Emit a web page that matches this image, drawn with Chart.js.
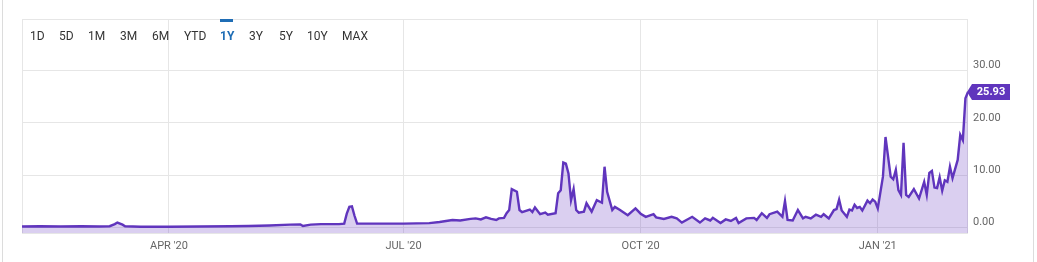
<!DOCTYPE html>
<html>
<head>
<meta charset="utf-8">
<script src="https://cdn.jsdelivr.net/npm/chart.js@4/dist/chart.umd.min.js"></script>
<style>
  html, body { margin: 0; padding: 0; background: #fff; }
  #wrap { position: relative; width: 1037px; height: 262px; font-family: Roboto, sans-serif; }
  #frame { position: absolute; left: 2px; top: 0; width: 1032px; height: 262px; box-sizing: border-box;
           border-left: 1px solid #dcdcdc; border-right: 1px solid #dcdcdc; pointer-events: none; }
  #chart { position: absolute; left: 0; top: 0; }
  .range { position: absolute; top: 29px; font-size: 12px; color: #333; line-height: 14px; }
  .range.active { color: #1f6db5; font-weight: bold; }
  #activeBar { position: absolute; left: 220px; top: 19px; width: 13px; height: 3px; background: #1f6db5; }
</style>
</head>
<body>
<div id="wrap">
  <canvas id="chart" width="1037" height="262"></canvas>
  <div id="frame"></div>
  <div id="activeBar"></div>
  <div id="ranges"></div>
</div>
<script>
// range buttons across the top
const ranges = ['1D', '5D', '1M', '3M', '6M', 'YTD', '1Y', '3Y', '5Y', '10Y', 'MAX'];
const rangeLeft = [30, 59, 88, 120, 152, 184, 220, 249, 279, 307, 342];
const activeRange = '1Y';

// x = days since 2020-01-01
const days = [
  34, 41, 49, 57, 64, 68, 70, 71, 73, 74, 80, 91, 103, 115, 122, 130, 138, 142, 143, 146,
  150, 157, 159, 160, 161, 162, 163, 164, 173, 182, 192, 196, 201, 204, 208, 210, 212, 214, 216, 218,
  219, 221, 222, 223, 224, 226, 227, 228, 231, 232, 233, 235, 237, 238, 241, 242, 243, 244, 245, 246,
  247, 248, 249, 250, 252, 253, 255, 257, 259, 260, 261, 263, 264, 266, 269, 272, 274, 276, 279, 280,
  283, 286, 288, 290, 294, 297, 299, 301, 302, 305, 307, 309, 311, 312, 315, 318, 319, 321, 323, 324,
  327, 329, 330, 331, 333, 335, 337, 338, 340, 342, 344, 345, 347, 349, 350, 351, 352, 354, 355, 356,
  357, 358, 359, 360, 362, 363, 364, 365, 366, 368, 369, 371, 372, 373, 374, 375, 376, 377, 378, 380,
  382, 384, 385, 386, 387, 388, 389, 390, 391, 392, 393, 394, 395, 397, 398, 399, 400, 401
];
const prices = [
  0.15, 0.2, 0.15, 0.2, 0.15, 0.2, 0.6, 0.9, 0.5, 0.2, 0.1, 0.1, 0.15, 0.2, 0.25, 0.35, 0.5, 0.55, 0.25, 0.5,
  0.6, 0.6, 0.7, 2.6, 3.9, 4.0, 2.2, 0.7, 0.7, 0.7, 0.8, 1.0, 1.4, 1.3, 1.6, 1.7, 1.5, 1.9, 1.6, 1.4,
  1.7, 1.8, 2.7, 3.3, 7.3, 6.8, 3.3, 2.9, 3.4, 2.9, 3.8, 2.5, 2.8, 2.4, 2.7, 6.5, 7.1, 12.4, 12.2, 10.3,
  5.2, 7.3, 3.3, 2.8, 3.0, 4.6, 3.0, 5.2, 4.7, 11.6, 6.8, 3.3, 3.9, 3.3, 2.3, 3.6, 2.6, 2.0, 2.5, 1.9,
  1.6, 2.0, 1.7, 0.9, 2.0, 0.9, 1.7, 1.3, 1.8, 0.8, 1.5, 1.2, 1.8, 0.8, 1.7, 1.8, 1.4, 2.7, 1.8, 2.5,
  3.0, 2.0, 5.0, 1.4, 1.3, 3.3, 1.7, 2.0, 1.7, 2.4, 2.0, 2.5, 1.7, 3.3, 3.5, 5.3, 3.2, 2.0, 3.4, 3.2,
  4.3, 3.7, 3.9, 3.2, 5.1, 4.6, 5.3, 4.9, 3.6, 9.7, 17.3, 9.7, 9.2, 11.0, 7.1, 6.2, 16.2, 6.2, 5.8, 7.3,
  5.5, 8.7, 6.2, 10.4, 10.8, 7.6, 7.5, 9.6, 7.0, 9.0, 8.7, 11.6, 9.4, 12.9, 17.7, 16.7, 24.7, 25.93
];

const quarterDays = [91, 182, 274, 366];
const quarterLabels = ["APR '20", "JUL '20", "OCT '20", "JAN '21"];
const priceTicks = [0, 10, 20, 30];

const LINE = '#6035bd';
const GRID = '#e6e6e6';

const rangeBox = document.getElementById('ranges');
ranges.forEach((r, i) => {
  const el = document.createElement('span');
  el.className = 'range' + (r === activeRange ? ' active' : '');
  el.style.left = rangeLeft[i] + 'px';
  el.textContent = r;
  rangeBox.appendChild(el);
});

// thin frame around the plot area
const frame = {
  id: 'frame',
  beforeDatasetsDraw(chart) {
    const { ctx, chartArea: a } = chart;
    ctx.save();
    ctx.strokeStyle = GRID;
    ctx.lineWidth = 1;
    ctx.strokeRect(a.left + 0.5, a.top + 0.5, a.right - a.left - 1, a.bottom - a.top);
    ctx.restore();
  }
};

// last price flag on the right axis
const lastFlag = {
  id: 'lastFlag',
  afterDraw(chart) {
    const pts = chart.getDatasetMeta(0).data;
    const p = pts[pts.length - 1];
    const { ctx } = chart;
    const h = 16, x = p.x - 1, y = p.y;
    ctx.save();
    ctx.fillStyle = LINE;
    ctx.beginPath();
    ctx.moveTo(x, y);
    ctx.lineTo(x + 5, y - h / 2);
    ctx.lineTo(x + 43, y - h / 2);
    ctx.lineTo(x + 43, y + h / 2);
    ctx.lineTo(x + 5, y + h / 2);
    ctx.closePath();
    ctx.fill();
    ctx.fillStyle = '#fff';
    ctx.font = 'bold 11px Roboto';
    ctx.textAlign = 'center';
    ctx.textBaseline = 'middle';
    ctx.fillText(prices[prices.length - 1].toFixed(2), x + 24, y + 0.5);
    ctx.restore();
  }
};

new Chart(document.getElementById('chart'), {
  type: 'line',
  data: {
    datasets: [{
      data: days.map((d, i) => ({ x: d, y: prices[i] })),
      borderColor: LINE,
      backgroundColor: 'rgba(100, 56, 192, 0.24)',
      borderWidth: 2.4,
      fill: 'start',
      tension: 0,
      pointRadius: 0
    }]
  },
  options: {
    responsive: false,
    animation: false,
    layout: { padding: { left: 22, top: 19, right: 0, bottom: 0 } },
    plugins: { legend: { display: false }, tooltip: { enabled: false } },
    scales: {
      x: {
        type: 'linear',
        min: 34,
        max: 401,
        afterBuildTicks: (s) => { s.ticks = quarterDays.map(v => ({ value: v })); },
        afterFit: (s) => { s.height = 29; },
        grid: { color: GRID, drawTicks: false },
        border: { display: false },
        ticks: {
          padding: 7,
          color: '#666',
          font: { family: 'Roboto', size: 11 },
          maxRotation: 0,
          callback: (v, i) => quarterLabels[i]
        }
      },
      y: {
        position: 'right',
        min: -1.1,
        max: 39.9,
        afterBuildTicks: (s) => { s.ticks = priceTicks.map(v => ({ value: v })); },
        afterFit: (s) => { s.width = 69; },
        grid: { color: GRID, drawTicks: false },
        border: { display: false },
        ticks: {
          padding: 5,
          labelOffset: -5,
          color: '#666',
          font: { family: 'Roboto', size: 11 },
          callback: (v) => v.toFixed(2)
        }
      }
    }
  },
  plugins: [frame, lastFlag]
});
</script>
</body>
</html>
